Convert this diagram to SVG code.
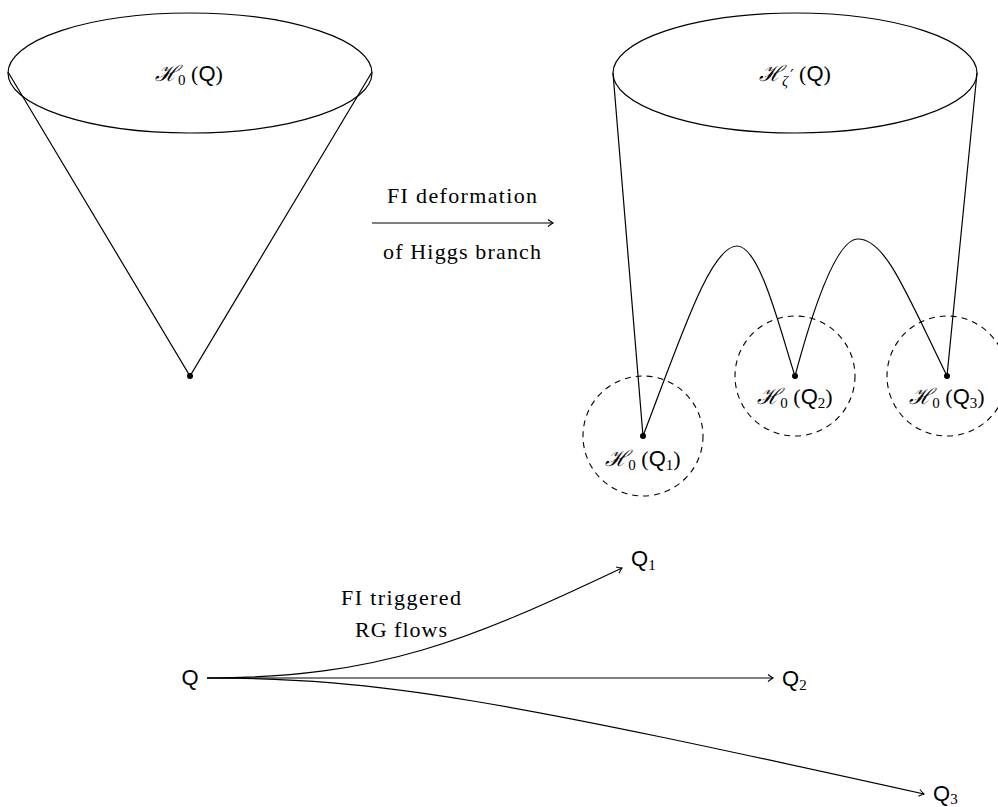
<svg xmlns="http://www.w3.org/2000/svg" width="998" height="807" viewBox="0 0 998 807">
<style>
.ln{fill:none;stroke:#000;stroke-width:1.2}
.dash{fill:none;stroke:#000;stroke-width:1.1;stroke-dasharray:6 5}
.rm{font-family:"Liberation Serif","Times New Roman",serif;font-size:22px;fill:#000}
.m{font-family:"Liberation Serif","Times New Roman",serif;font-size:22px;fill:#000}
.cal{font-family:"DejaVu Serif","Liberation Serif",serif;font-style:italic}
.it{font-family:"Liberation Serif",serif;font-style:italic}
.pr{font-family:"DejaVu Sans",sans-serif;font-style:normal}
.sf{font-family:"Liberation Sans","DejaVu Sans",sans-serif}
.sub{font-size:15px}
</style>
<defs>
<marker id="to" markerWidth="10" markerHeight="10" refX="0" refY="0" viewBox="-6 -5 8 10" orient="auto" markerUnits="userSpaceOnUse">
<path d="M-5,-3.5 Q-1.5,-0.8 0,0 Q-1.5,0.8 -5,3.5" fill="none" stroke="#000" stroke-width="1.1"/>
</marker>
</defs>
<rect width="998" height="807" fill="#fff"/>

<g id="cone-left">
<ellipse class="ln" cx="190" cy="73" rx="182" ry="60"/>
<path class="ln" d="M8,72 L190,376 L372,72"/>
<circle cx="190" cy="376" r="3"/>
<text class="m" x="189" y="81" text-anchor="middle"><tspan class="cal">ℋ</tspan><tspan class="sub" dy="4">0</tspan><tspan dy="-4"> (</tspan><tspan class="sf">Q</tspan>)</text>
</g>

<g id="cone-right">
<ellipse class="ln" cx="795" cy="73" rx="182" ry="60"/>
<path class="ln" d="M613,73 L643,436 C680,340 710,246 737,246 C760,246 780,330 795,376 C810,320 835,239 858,239 C885,239 905,290 947,376 L977,73"/>
<text class="m" x="795" y="81" text-anchor="middle"><tspan class="cal">ℋ</tspan><tspan class="sub it" dy="5">ζ</tspan><tspan class="sub pr" dx="2" dy="-5">′</tspan><tspan dy="0"> (</tspan><tspan class="sf">Q</tspan>)</text>
</g>

<g id="vac1">
<circle class="dash" cx="643" cy="436" r="60"/>
<circle cx="643" cy="436" r="3"/>
<text class="m" x="643" y="466" text-anchor="middle"><tspan class="cal">ℋ</tspan><tspan class="sub" dy="4">0</tspan><tspan dy="-4"> (</tspan><tspan class="sf">Q</tspan><tspan class="sub" dy="4">1</tspan><tspan dy="-4">)</tspan></text>
</g>
<g id="vac2">
<circle class="dash" cx="795" cy="376" r="60"/>
<circle cx="795" cy="376" r="3"/>
<text class="m" x="795" y="404" text-anchor="middle"><tspan class="cal">ℋ</tspan><tspan class="sub" dy="4">0</tspan><tspan dy="-4"> (</tspan><tspan class="sf">Q</tspan><tspan class="sub" dy="4">2</tspan><tspan dy="-4">)</tspan></text>
</g>
<g id="vac3">
<circle class="dash" cx="947" cy="376" r="60"/>
<circle cx="947" cy="376" r="3"/>
<text class="m" x="947" y="404" text-anchor="middle"><tspan class="cal">ℋ</tspan><tspan class="sub" dy="4">0</tspan><tspan dy="-4"> (</tspan><tspan class="sf">Q</tspan><tspan class="sub" dy="4">3</tspan><tspan dy="-4">)</tspan></text>
</g>

<g id="deform">
<text class="rm" x="462" y="203" text-anchor="middle" textLength="150">FI deformation</text>
<text class="rm" x="462" y="259" text-anchor="middle" textLength="158">of Higgs branch</text>
</g>

<g id="nodeQ"><text class="m sf" x="190" y="685" text-anchor="middle">Q</text></g>
<g id="nodeQ1"><text class="m" x="631" y="566"><tspan class="sf">Q</tspan><tspan class="sub" dy="4">1</tspan></text></g>
<g id="nodeQ2"><text class="m" x="782" y="686"><tspan class="sf">Q</tspan><tspan class="sub" dy="4">2</tspan></text></g>
<g id="nodeQ3"><text class="m" x="933" y="801"><tspan class="sf">Q</tspan><tspan class="sub" dy="3">3</tspan></text></g>
<g id="rg-label">
<text class="rm" x="401" y="605" text-anchor="middle" textLength="120">FI triggered</text>
<text class="rm" x="401" y="637" text-anchor="middle" textLength="92">RG flows</text>
</g>

<g id="connectors">
<path class="ln" d="M372,223 L553,223" marker-end="url(#to)"/>
<path class="ln" d="M207,678 L773,678" marker-end="url(#to)"/>
<path class="ln" d="M207,678 C380,678 470,640 622,568" marker-end="url(#to)"/>
<path class="ln" d="M207,678 C380,678 500,700 924,794" marker-end="url(#to)"/>
</g>
</svg>
